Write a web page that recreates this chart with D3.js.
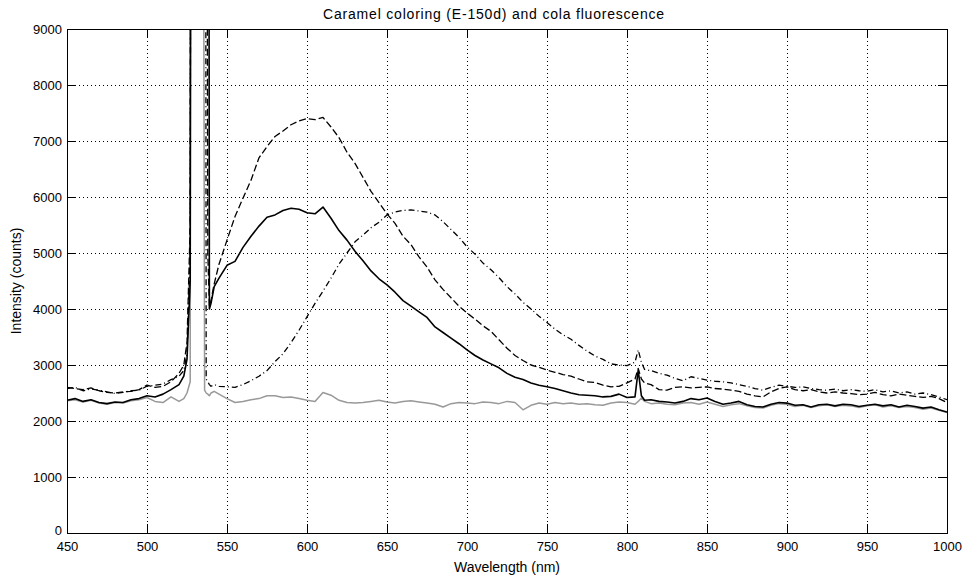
<!DOCTYPE html>
<html>
<head>
<meta charset="utf-8">
<script src="https://d3js.org/d3.v7.min.js"></script>
<style>
  body { margin: 0; background: #fff; }
  text { font-family: "Liberation Sans", Arial, sans-serif; fill: #000; }
</style>
</head>
<body>
<div id="chart"></div>
<script>
// wavelength samples (nm), shared by every spectrum
var wavelength = [
  450,455,460,465,470,475,480,485,490,495,
  500,505,510,515,520,523,525,527,528,530,
  532,534,536,537,538,539,540,542,545,550,
  555,560,565,570,575,580,585,590,595,600,
  605,610,615,620,625,630,635,640,645,650,
  655,660,665,670,675,680,685,690,695,700,
  705,710,715,720,725,730,735,740,745,750,
  755,760,765,770,775,780,785,790,795,800,
  805,807,809,811,815,820,825,830,835,840,
  845,850,855,860,865,870,875,880,885,890,
  895,900,905,910,915,920,925,930,935,940,
  945,950,955,960,965,970,975,980,985,990,
  995,1000];

// gray solid spectrum (counts)
var grayCounts = [
  2360,2380,2340,2370,2320,2300,2330,2320,2360,2380,
  2420,2350,2330,2430,2350,2400,2500,2700,30000,30000,
  30000,30000,2550,2500,2480,2450,2500,2530,2480,2400,
  2330,2350,2380,2400,2450,2450,2420,2430,2400,2370,
  2350,2510,2460,2370,2330,2320,2330,2350,2370,2340,
  2320,2350,2360,2340,2320,2300,2250,2310,2330,2320,
  2310,2340,2330,2310,2350,2330,2200,2280,2320,2300,
  2330,2310,2320,2300,2310,2290,2280,2320,2340,2330,
  2300,2350,2410,2350,2310,2320,2300,2290,2320,2330,
  2300,2340,2300,2260,2290,2310,2270,2240,2230,2280,
  2310,2300,2260,2280,2240,2270,2290,2260,2280,2270,
  2240,2270,2290,2250,2270,2240,2260,2240,2210,2230,
  2190,2150];

// black solid spectrum
var solidCounts = [
  2370,2400,2350,2380,2330,2310,2340,2330,2380,2400,
  2450,2430,2480,2560,2650,2800,3100,4500,30000,30000,
  30000,30000,30000,30000,30000,4000,4100,4400,4550,4780,
  4850,5100,5300,5480,5640,5680,5760,5800,5780,5720,
  5700,5820,5620,5400,5230,5030,4860,4680,4540,4430,
  4300,4150,4050,3950,3850,3680,3580,3480,3380,3270,
  3170,3090,3020,2950,2850,2780,2740,2680,2640,2610,
  2580,2540,2500,2470,2460,2450,2430,2440,2480,2420,
  2430,2910,2450,2370,2380,2350,2340,2320,2350,2400,
  2380,2410,2350,2300,2320,2350,2290,2260,2250,2300,
  2330,2320,2280,2290,2250,2290,2300,2270,2300,2290,
  2260,2280,2300,2270,2290,2250,2280,2260,2230,2250,
  2200,2160];

// dashed spectrum
var dashedCounts = [
  2600,2580,2560,2590,2540,2510,2500,2520,2530,2560,
  2640,2600,2620,2700,2850,3000,3400,5500,30000,30000,
  30000,30000,30000,20000,5000,4050,4150,4450,4800,5230,
  5650,5980,6300,6700,6900,7080,7180,7290,7360,7400,
  7380,7420,7250,7060,6800,6600,6350,6100,5900,5700,
  5530,5300,5150,4930,4750,4520,4350,4200,4050,3930,
  3820,3700,3600,3450,3300,3170,3080,3000,2960,2910,
  2870,2830,2800,2750,2700,2690,2640,2610,2620,2680,
  2750,2940,2750,2680,2650,2560,2550,2600,2610,2590,
  2600,2610,2580,2570,2550,2530,2480,2450,2430,2520,
  2580,2610,2560,2540,2560,2520,2500,2520,2500,2490,
  2470,2480,2510,2470,2450,2480,2460,2440,2420,2440,
  2400,2330];

// dash-dot spectrum
var dashDotCounts = [
  2580,2600,2540,2570,2550,2520,2490,2510,2540,2550,
  2620,2640,2660,2740,2800,2900,3200,5000,30000,30000,
  30000,30000,30000,2750,2700,2650,2620,2650,2620,2610,
  2600,2650,2720,2800,2900,3060,3200,3400,3620,3860,
  4100,4320,4550,4800,5000,5200,5320,5450,5550,5680,
  5730,5760,5770,5750,5730,5680,5560,5420,5280,5110,
  4980,4820,4700,4560,4400,4270,4120,4000,3870,3760,
  3640,3540,3460,3350,3250,3160,3100,3020,3000,2990,
  3050,3270,3050,2920,2900,2850,2820,2760,2720,2790,
  2760,2730,2710,2700,2680,2650,2620,2580,2550,2600,
  2640,2620,2600,2610,2580,2560,2550,2570,2540,2560,
  2540,2530,2560,2520,2540,2500,2520,2480,2500,2470,
  2430,2380];

var xTicks = [450,500,550,600,650,700,750,800,850,900,950,1000];
var yTicks = [0,1000,2000,3000,4000,5000,6000,7000,8000,9000];

// set the dimensions and margins of the graph
var margin = {top: 29, right: 17, bottom: 46, left: 67},
    width = 964 - margin.left - margin.right,
    height = 579 - margin.top - margin.bottom;

var svgRoot = d3.select("#chart")
  .append("svg")
  .attr("width", 964)
  .attr("height", 579);

var svg = svgRoot.append("g")
  .attr("transform", "translate(" + margin.left + "," + margin.top + ")");

var x = d3.scaleLinear().domain([450, 1000]).range([0, width]);
var y = d3.scaleLinear().domain([0, 9000]).range([height, 0]);

// dotted grid
svg.append("g")
  .selectAll("line.vg")
  .data(xTicks.slice(1, -1))
  .enter()
  .append("line")
  .attr("x1", d => Math.round(x(d)) + 0.5)
  .attr("x2", d => Math.round(x(d)) + 0.5)
  .attr("y1", 0)
  .attr("y2", height)
  .attr("stroke", "#000")
  .attr("stroke-dasharray", "1,3");

svg.append("g")
  .selectAll("line.hg")
  .data(yTicks.slice(1, -1))
  .enter()
  .append("line")
  .attr("x1", 0)
  .attr("x2", width)
  .attr("y1", d => Math.round(y(d)) + 0.5)
  .attr("y2", d => Math.round(y(d)) + 0.5)
  .attr("stroke", "#000")
  .attr("stroke-dasharray", "1,3");

// clip the spectra to the plot box
svg.append("clipPath")
  .attr("id", "plotclip")
  .append("rect")
  .attr("width", width)
  .attr("height", height);

var line = d3.line()
  .x((d, i) => x(wavelength[i]))
  .y(d => y(d));

var spectra = [
  {values: grayCounts, color: "#999", dash: null, w: 1.5},
  {values: dashDotCounts, color: "#000", dash: "6,3,1,3", w: 1.3},
  {values: dashedCounts, color: "#000", dash: "7,3", w: 1.3},
  {values: solidCounts, color: "#000", dash: null, w: 1.6}
];

svg.append("g")
  .attr("clip-path", "url(#plotclip)")
  .selectAll("path")
  .data(spectra)
  .enter()
  .append("path")
  .attr("d", d => line(d.values))
  .attr("fill", "none")
  .attr("stroke", d => d.color)
  .attr("stroke-width", d => d.w)
  .attr("stroke-dasharray", d => d.dash)
  .attr("stroke-linejoin", "round");

// axes with inward ticks
function styleAxis(g) {
  g.select(".domain").remove();
  g.selectAll("line").attr("stroke", "#000");
  g.selectAll("text")
    .attr("font-size", 13)
    .attr("font-family", "Liberation Sans, Arial, sans-serif")
    .attr("fill", "#000");
}

var fmt = d3.format("d");

svg.append("g")
  .attr("transform", "translate(0," + height + ")")
  .call(d3.axisBottom(x).tickValues(xTicks).tickFormat(fmt).tickSize(-9).tickPadding(9))
  .call(styleAxis);

var yAxisG = svg.append("g")
  .call(d3.axisLeft(y).tickValues(yTicks).tickFormat(fmt).tickSize(-9).tickPadding(5))
  .call(styleAxis);

// lift the "0" label a little so it clears the "450" below it
yAxisG.selectAll(".tick text")
  .filter(d => d === 0)
  .attr("dy", "0.1em");

svg.append("g")
  .call(d3.axisTop(x).tickValues(xTicks).tickSize(-9).tickFormat(""))
  .call(styleAxis);

svg.append("g")
  .attr("transform", "translate(" + width + ",0)")
  .call(d3.axisRight(y).tickValues(yTicks).tickSize(-9).tickFormat(""))
  .call(styleAxis);

// box
svg.append("rect")
  .attr("x", 0.5)
  .attr("y", 0.5)
  .attr("width", width)
  .attr("height", height)
  .attr("fill", "none")
  .attr("stroke", "#000");

// title and labels
svgRoot.append("text")
  .attr("x", 494)
  .attr("y", 19)
  .attr("text-anchor", "middle")
  .style("font-size", "14px")
  .style("letter-spacing", "0.8px")
  .text("Caramel coloring (E-150d) and cola fluorescence");

svgRoot.append("text")
  .attr("x", margin.left + width / 2)
  .attr("y", 572)
  .attr("text-anchor", "middle")
  .style("font-size", "14px")
  .text("Wavelength (nm)");

svgRoot.append("text")
  .attr("text-anchor", "middle")
  .attr("transform", "translate(21," + (margin.top + height / 2) + ") rotate(-90)")
  .style("font-size", "14px")
  .text("Intensity (counts)");
</script>
</body>
</html>
